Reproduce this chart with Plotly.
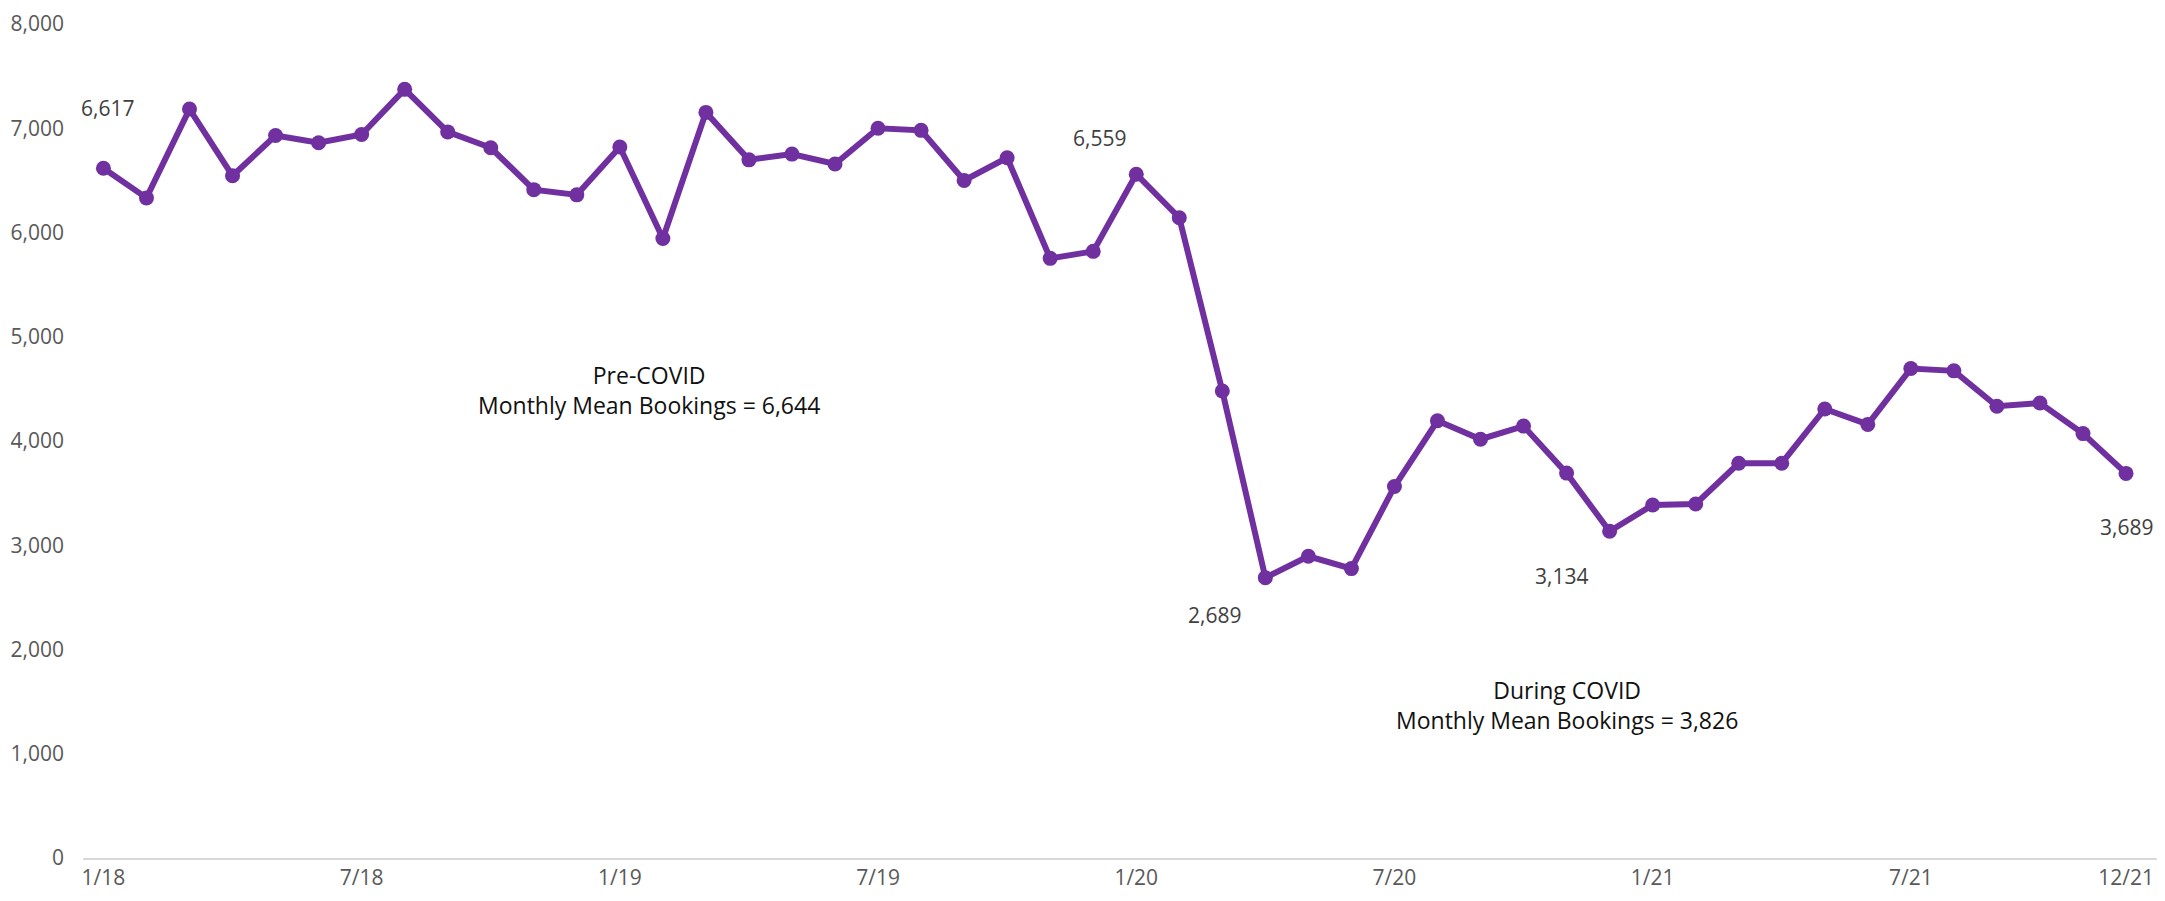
import plotly.graph_objects as go

# monthly bookings, 1/18 .. 12/21
months = ["1/18", "2/18", "3/18", "4/18", "5/18", "6/18", "7/18", "8/18", "9/18", "10/18", "11/18", "12/18",
          "1/19", "2/19", "3/19", "4/19", "5/19", "6/19", "7/19", "8/19", "9/19", "10/19", "11/19", "12/19",
          "1/20", "2/20", "3/20", "4/20", "5/20", "6/20", "7/20", "8/20", "9/20", "10/20", "11/20", "12/20",
          "1/21", "2/21", "3/21", "4/21", "5/21", "6/21", "7/21", "8/21", "9/21", "10/21", "11/21", "12/21"]
bookings = [6617, 6332, 7184, 6544, 6930, 6861, 6940, 7373, 6965, 6813, 6411, 6361,
            6820, 5943, 7152, 6697, 6752, 6657, 7000, 6980, 6500, 6717, 5752, 5819,
            6559, 6142, 4480, 2689, 2894, 2776, 3563, 4194, 4017, 4143, 3692, 3134,
            3386, 3396, 3787, 3787, 4307, 4159, 4695, 4673, 4333, 4364, 4071, 3689]
tick_labels = ["1/18", "7/18", "1/19", "7/19", "1/20", "7/20", "1/21", "7/21", "12/21"]
y_ticks = [0, 1000, 2000, 3000, 4000, 5000, 6000, 7000, 8000]

pre_mean = "6,644"
during_mean = "3,826"

PURPLE = "#7030A0"
FONT = "Open Sans"

x = list(range(len(months)))
tick_vals = [months.index(t) for t in tick_labels]

fig = go.Figure()
fig.add_trace(go.Scatter(
    x=x,
    y=bookings,
    mode="lines+markers",
    line=dict(color=PURPLE, width=6),
    marker=dict(color=PURPLE, size=15),
    hoverinfo="skip",
))

# value callouts: (index, xshift, yshift)
callouts = [(0, 4, 60), (24, -37, 36), (27, -51, -37), (35, -48, -45), (47, 0, -54)]
for i, dx, dy in callouts:
    fig.add_annotation(
        x=i, y=bookings[i], text=f"{bookings[i]:,}",
        showarrow=False, xshift=dx, yshift=dy,
        font=dict(family=FONT, size=21, color="#404040"),
    )

fig.add_annotation(
    x=12.68, y=4489, showarrow=False, align="center",
    text=f"Pre-COVID<br>Monthly Mean Bookings = {pre_mean}",
    font=dict(family=FONT, size=23, color="#111111"),
)
fig.add_annotation(
    x=34.0, y=1471, showarrow=False, align="center",
    text=f"During COVID<br>Monthly Mean Bookings = {during_mean}",
    font=dict(family=FONT, size=23, color="#111111"),
)

# the page adds an 8px body margin, so the figure is sized to fit inside it
fig.update_layout(
    width=2149, height=885,
    margin=dict(l=75, r=0, t=16, b=35),
    paper_bgcolor="white",
    plot_bgcolor="white",
    showlegend=False,
    font=dict(family=FONT),
)
fig.update_xaxes(
    range=[-0.475, 47.72],
    tickvals=tick_vals, ticktext=tick_labels,
    showgrid=False, zeroline=False,
    showline=True, linecolor="#d9d9d9", linewidth=2,
    ticks="", ticklabeloverflow="allow", automargin=False,
    tickfont=dict(family=FONT, size=21, color="#595959"),
)
fig.update_yaxes(
    range=[0, 8000],
    tickvals=y_ticks, tickformat=",",
    showgrid=False, zeroline=False, showline=False,
    ticks="", ticklabelstandoff=18, ticklabeloverflow="allow", automargin=False,
    tickfont=dict(family=FONT, size=21, color="#595959"),
)

fig.write_html("out.html")
